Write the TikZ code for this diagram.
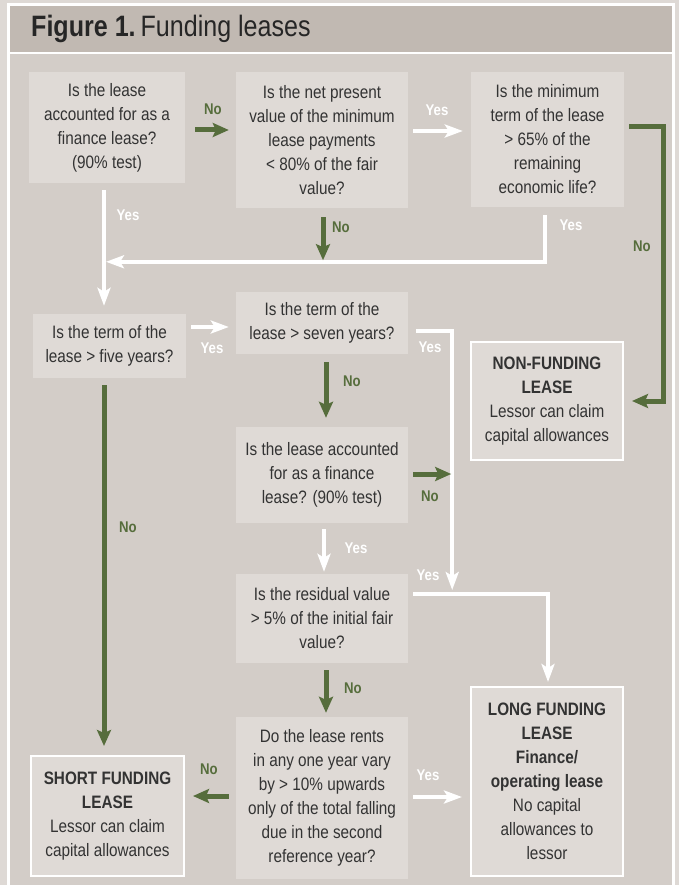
\documentclass[tikz,border=0pt]{standalone}
\usepackage{fontspec}
\setmainfont{Liberation Sans}[FakeStretch=0.85]
\usetikzlibrary{arrows.meta,calc}
\definecolor{outerbg}{HTML}{DED9D5}
\definecolor{titlebg}{HTML}{C1B9B2}
\definecolor{bodybg}{HTML}{D3CDC8}
\definecolor{boxbg}{HTML}{DFDAD6}
\definecolor{txt}{HTML}{333333}
\definecolor{grn}{HTML}{566D3C}
\begin{document}
\begin{tikzpicture}[x=1pt,y=-1pt,
  qbox/.style={fill=boxbg, text=txt, align=center, inner sep=0pt, font=\fontsize{18}{24}\selectfont},
  resbox/.style={qbox, draw=white, line width=2pt},
  garrow/.style={draw=grn, line width=5pt, line join=miter, -{Stealth[length=16pt,width=14pt,inset=3pt]}},
  warrow/.style={draw=white, line width=4.5pt, line join=miter, -{Stealth[length=18pt,width=13pt,inset=4pt]}},
  glab/.style={text=grn, inner sep=0pt, font=\fontsize{15.5}{18}\selectfont\bfseries},
  wlab/.style={text=white, inner sep=0pt, font=\fontsize{15.5}{18}\selectfont\bfseries}]
\useasboundingbox (0,0) rectangle (679,885);
% frame
\fill[outerbg] (0,0) rectangle (679,885);
\fill[bodybg] (8.5,4.7) rectangle (673.5,885);
\fill[titlebg] (8.5,4.7) rectangle (673.5,53);
\draw[white,line width=2.5pt] (8.5,890) -- (8.5,4.7) -- (673.5,4.7) -- (673.5,890);
\draw[white,line width=2.5pt] (8.5,53) -- (673.5,53);
\node[anchor=base west, inner sep=0pt, text=black!85, font=\fontsize{29.5}{31}\selectfont] (title) at (31,37) {\textbf{Figure 1.}\,Funding leases};
% boxes
\node[qbox, minimum width=156pt, minimum height=111pt] (A) at (107,127.5) {Is the lease\\accounted for as a\\finance lease?\\(90\% test)};
\node[qbox, minimum width=172pt, minimum height=136pt] (B) at (322,140) {Is the net present\\value of the minimum\\lease payments\\< 80\% of the fair\\value?};
\node[qbox, minimum width=153pt, minimum height=135pt] (C) at (547.5,139.5) {Is the minimum\\term of the lease\\> 65\% of the\\remaining\\economic life?};
\node[resbox, minimum width=152pt, minimum height=118pt] (D) at (547,401) {\textbf{NON-FUNDING}\\\textbf{LEASE}\\Lessor can claim\\capital allowances};
\node[qbox, minimum width=153pt, minimum height=64pt] (E) at (109.5,346) {Is the term of the\\lease > five years?};
\node[qbox, minimum width=172pt, minimum height=62pt] (F) at (322,323) {Is the term of the\\lease > seven years?};
\node[qbox, minimum width=172pt, minimum height=96pt] (G) at (322,475) {Is the lease accounted\\for as a finance\\lease? (90\% test)};
\node[qbox, minimum width=172pt, minimum height=89pt] (H) at (322,618.5) {Is the residual value\\> 5\% of the initial fair\\value?};
\node[qbox, minimum width=172pt, minimum height=162pt] (I) at (322,798) {Do the lease rents\\in any one year vary\\by > 10\% upwards\\only of the total falling\\due in the second\\reference year?};
\node[resbox, minimum width=152pt, minimum height=189pt] (L) at (547,781.5) {\textbf{LONG FUNDING}\\\textbf{LEASE}\\\textbf{Finance/}\\\textbf{operating lease}\\No capital\\allowances to\\lessor};
\node[resbox, minimum width=153pt, minimum height=120pt] (S) at (107.5,816) {\textbf{SHORT FUNDING}\\\textbf{LEASE}\\Lessor can claim\\capital allowances};
% connectors
\draw[garrow] ($(A.east)+(10,2.5)$) -- ($(B.west)+(-7,-10)$);
\draw[warrow] ($(B.east)+(5,-9)$) -- ($(C.west)+(-8,-8.5)$);
\draw[garrow] ($(C.east)+(5,-12.5)$) -| ($(D.east)+(39,0)$) -- ($(D.east)+(8,0)$);
\draw[warrow] ($(A.south)+(-3,7)$) -- ($(E.north)+(-5.5,-8)$);
\draw[warrow] ($(C.south)+(-2.5,8)$) |- ($(E.north)+(-3.5,-52)$);
\draw[garrow] ($(B.south)+(1,9)$) -- ($(B.south)+(1,52)$);
\draw[warrow] ($(E.east)+(5,-19)$) -- ($(F.west)+(-7,4)$);
\draw[warrow] ($(F.east)+(8,8)$) -| ($(H.east)+(44,-28.5)$);
\draw[warrow] ($(H.east)+(5,-24.5)$) -| ($(L.north)+(1,-4)$);
\draw[garrow] ($(F.south)+(4,8)$) -- ($(G.north)+(4,-9)$);
\draw[garrow] ($(G.east)+(5,-1)$) -- ($(G.east)+(43,-1)$);
\draw[warrow] ($(G.south)+(2,6)$) -- ($(H.north)+(2,-2)$);
\draw[garrow] ($(H.south)+(4,7)$) -- ($(I.north)+(4,-4)$);
\draw[garrow] ($(I.west)+(-7,-2)$) -- ($(S.east)+(8,-20)$);
\draw[warrow] ($(I.east)+(5,-1)$) -- ($(L.west)+(-8,15.5)$);
\draw[garrow] ($(E.south)+(-5.5,7)$) -- ($(S.north)+(-3.5,-9)$);
% labels
\node[glab] (l1) at (213,109) {No};
\node[wlab] (l2) at (437,110) {Yes};
\node[glab] (l3) at (642,246) {No};
\node[wlab] (l4) at (128,215) {Yes};
\node[wlab] (l5) at (571,225) {Yes};
\node[glab] (l6) at (341,227) {No};
\node[wlab] (l7) at (212,348) {Yes};
\node[wlab] (l8) at (430,347) {Yes};
\node[wlab] (l9) at (428,575) {Yes};
\node[glab] (l10) at (352,381) {No};
\node[glab] (l11) at (430,496) {No};
\node[wlab] (l12) at (356,548) {Yes};
\node[glab] (l13) at (353,688) {No};
\node[glab] (l14) at (209,769) {No};
\node[wlab] (l15) at (428,775) {Yes};
\node[glab] (l16) at (128,527) {No};
\end{tikzpicture}
\end{document}
